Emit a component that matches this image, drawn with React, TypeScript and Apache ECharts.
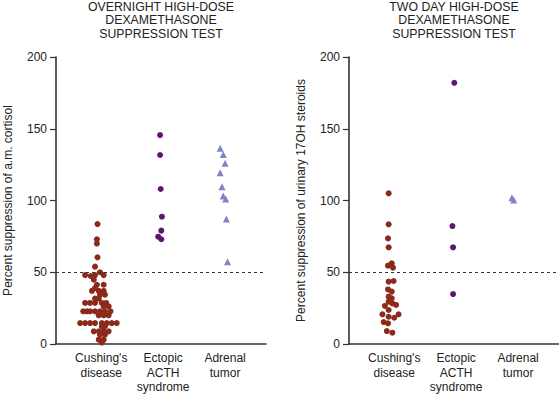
import React, { useEffect, useRef } from "react";
import * as echarts from "echarts";

const categories = ["Cushing's\ndisease", "Ectopic\nACTH\nsyndrome", "Adrenal\ntumor"];
const yTicks = [0, 50, 100, 150, 200];
const cutoff = 50;

// Overnight test: [category position with jitter, percent suppression]
const overnightCushingX = [0.94, 0.93, 0.93, 0.94, 0.9, 0.74, 0.83, 0.9, 0.98, 1.04, 0.88, 0.93, 1.04, 0.9, 0.85, 0.96, 1.04, 0.98, 1.06, 0.9, 0.96, 0.74, 0.82, 0.9, 1.01, 1.08, 1.04, 1.12, 0.71, 0.77, 0.82, 0.9, 0.98, 1.06, 1.15, 0.96, 1.04, 1.12, 0.66, 0.74, 0.82, 0.9, 1.01, 1.09, 1.17, 1.25, 1.01, 1.06, 0.88, 0.96, 1.04, 1.12, 0.98, 1.06, 0.96, 1.04, 1.01];
const overnightCushingY = [83.6, 73, 70, 60.4, 53.9, 48, 47.4, 48, 50, 48, 44.8, 41.3, 41.3, 39, 37, 37, 37, 34.4, 34.4, 31.6, 31.6, 28.6, 28.6, 28.6, 28.6, 28.6, 26.2, 26.2, 22.8, 22.8, 22.8, 22.8, 22.8, 22.8, 22.8, 20, 20, 20, 14.6, 14.6, 14.6, 14.6, 14.6, 14.6, 14.6, 14.6, 12.3, 12.3, 8.8, 8.8, 8.8, 8.8, 6.5, 6.5, 3, 3, 1];
const overnightEctopicX = [1.95, 1.95, 1.96, 1.98, 1.97, 1.92, 1.97];
const overnightEctopicY = [145.6, 131.7, 108, 88.7, 79, 74.8, 73];
const overnightAdrenalX = [2.92, 2.97, 3.0, 2.92, 2.95, 2.97, 3.01, 3.02, 3.04];
const overnightAdrenalY = [136.4, 132, 125.9, 119.4, 109.6, 103.1, 101, 87.1, 57.4];

// Two-day test
const twoDayCushingX = [0.91, 0.91, 0.9, 0.91, 0.9, 0.96, 0.98, 0.91, 0.99, 0.9, 0.96, 0.91, 0.96, 0.91, 0.97, 1.03, 0.85, 0.91, 0.81, 1.07, 0.91, 1.0, 0.83, 0.9, 0.88, 0.97];
const twoDayCushingY = [105, 83.4, 73.6, 67.4, 54.6, 56.2, 53.2, 43.4, 43.9, 38, 36.5, 33, 31.8, 29.5, 28.3, 27.2, 26.5, 23.7, 20.7, 20.7, 19, 18.3, 15.3, 14.4, 9, 7.9];
const twoDayEctopicX = [1.97, 1.94, 1.95, 1.95];
const twoDayEctopicY = [182, 82.2, 67.4, 34.8];
const twoDayAdrenalX = [2.9, 2.93];
const twoDayAdrenalY = [102, 100.3];

const zip = (xs: number[], ys: number[]) => xs.map((x, i) => [x, ys[i]]);

const FONT = "'Liberation Sans', Arial, Helvetica, sans-serif";
const AXIS = "#333";
const TEXT = "#222";
const RED = "#8b2a1a";
const PURPLE = "#5e1670";
const TRI = "#7e84c8";

export default function App() {
  const ref = useRef<HTMLDivElement>(null);
  useEffect(() => {
    if (!ref.current) return;
    const chart = echarts.init(ref.current, null, { renderer: "svg" });
    const xAxisBase = (gridIndex: number) => ({
      type: "value" as const,
      gridIndex,
      min: 0.27,
      max: 3.66,
      axisLine: { show: true, lineStyle: { color: AXIS, width: 1.6 } },
      axisTick: { show: false },
      splitLine: { show: false },
      axisLabel: {
        customValues: [1, 2, 3],
        formatter: (v: number) => categories[Math.round(v) - 1] ?? "",
        color: TEXT,
        fontFamily: FONT,
        fontSize: 12,
        lineHeight: 14.5,
        margin: 7,
        verticalAlign: "top",
      },
    });
    const yAxisBase = (gridIndex: number, name: string, nameGap: number) => ({
      type: "value" as const,
      gridIndex,
      min: 0,
      max: 200,
      interval: 50,
      name,
      nameLocation: "middle" as const,
      nameGap,
      nameTextStyle: { color: TEXT, fontFamily: FONT, fontSize: 12 },
      axisLine: { show: true, lineStyle: { color: AXIS, width: 1.6 } },
      axisTick: { show: true, length: 6, lineStyle: { color: AXIS, width: 1.2 } },
      splitLine: { show: false },
      axisLabel: {
        color: TEXT,
        fontFamily: FONT,
        fontSize: 12,
        margin: 9,
        customValues: yTicks,
      },
    });
    const cutLine = {
      silent: true,
      symbol: "none",
      label: { show: false },
      lineStyle: { color: "#333", type: [3, 3], width: 1.2 },
      data: [{ yAxis: cutoff }],
    };
    const titleStyle = { fontFamily: FONT, fontSize: 12.3, fontWeight: "normal", color: TEXT, lineHeight: 13.5 };
    chart.setOption({
      animation: false,
      title: [
        {
          text: "OVERNIGHT HIGH-DOSE\nDEXAMETHASONE\nSUPPRESSION TEST",
          left: 161, top: 0, padding: 0, textAlign: "center",
          textStyle: titleStyle,
        },
        {
          text: "TWO DAY HIGH-DOSE\nDEXAMETHASONE\nSUPPRESSION TEST",
          left: 454, top: 0, padding: 0, textAlign: "center",
          textStyle: titleStyle,
        },
      ],
      grid: [
        { left: 56, width: 210, top: 57, height: 287 },
        { left: 349, width: 210, top: 57, height: 287 },
      ],
      xAxis: [xAxisBase(0), xAxisBase(1)],
      yAxis: [
        yAxisBase(0, "Percent suppression of a.m. cortisol", 42),
        yAxisBase(1, "Percent suppression of urinary 17OH steroids", 42),
      ],
      series: [
        {
          type: "scatter", xAxisIndex: 0, yAxisIndex: 0,
          data: zip(overnightCushingX, overnightCushingY),
          symbol: "circle", symbolSize: 6,
          itemStyle: { color: RED, opacity: 1 },
          markLine: cutLine,
        },
        {
          type: "scatter", xAxisIndex: 0, yAxisIndex: 0,
          data: zip(overnightEctopicX, overnightEctopicY),
          symbol: "circle", symbolSize: 6,
          itemStyle: { color: PURPLE, opacity: 1 },
        },
        {
          type: "scatter", xAxisIndex: 0, yAxisIndex: 0,
          data: zip(overnightAdrenalX, overnightAdrenalY),
          symbol: "triangle", symbolSize: 7,
          itemStyle: { color: TRI, opacity: 1 },
        },
        {
          type: "scatter", xAxisIndex: 1, yAxisIndex: 1,
          data: zip(twoDayCushingX, twoDayCushingY),
          symbol: "circle", symbolSize: 6,
          itemStyle: { color: RED, opacity: 1 },
          markLine: cutLine,
        },
        {
          type: "scatter", xAxisIndex: 1, yAxisIndex: 1,
          data: zip(twoDayEctopicX, twoDayEctopicY),
          symbol: "circle", symbolSize: 6,
          itemStyle: { color: PURPLE, opacity: 1 },
        },
        {
          type: "scatter", xAxisIndex: 1, yAxisIndex: 1,
          data: zip(twoDayAdrenalX, twoDayAdrenalY),
          symbol: "triangle", symbolSize: 7,
          itemStyle: { color: TRI, opacity: 1 },
        },
      ],
    });
    return () => chart.dispose();
  }, []);
  return (
    <div
      ref={ref}
      style={{ position: "absolute", left: 0, top: 0, width: 559, height: 396 }}
    />
  );
}
